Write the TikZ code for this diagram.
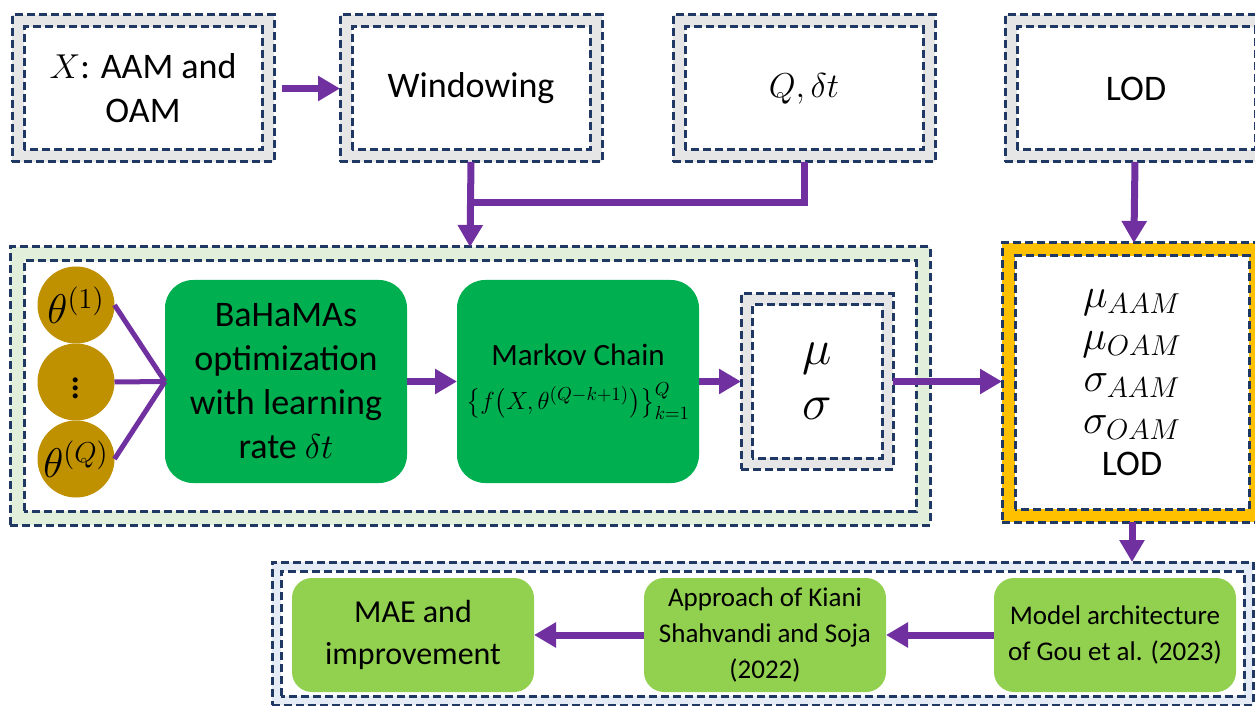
\documentclass[tikz,border=0pt]{standalone}
\usepackage{amsmath}
\usepackage{graphicx}
\usepackage{fontspec}
\setmainfont{Carlito}
\usetikzlibrary{positioning,calc,arrows.meta}

\definecolor{navyline}{HTML}{1F3864}
\definecolor{flowpurple}{HTML}{7030A0}
\definecolor{bandgray}{HTML}{E7E6E6}
\definecolor{bandgreen}{HTML}{E2EFDA}
\definecolor{bandblue}{HTML}{E6ECF6}
\definecolor{bandorange}{HTML}{FFC000}
\definecolor{stepgreen}{HTML}{00B050}
\definecolor{litegreen}{HTML}{92D050}
\definecolor{paramgold}{HTML}{BF9000}

\tikzset{
  dashline/.style={draw=navyline, line width=1.5pt, dash pattern=on 4pt off 2pt},
  dframe/.style 2 args={rectangle, dashline, fill=#1, inner sep=0pt, outer sep=0pt, align=center,
    path picture={\path[dashline, fill=white] ($(path picture bounding box.south west)+(#2,#2)$) rectangle ($(path picture bounding box.north east)-(#2,#2)$);}},
  inbox/.style={dframe={bandgray}{6pt}, minimum width=131pt, minimum height=73.5pt, font=\fontsize{18}{22}\selectfont},
  procbox/.style={rectangle, rounded corners=14pt, fill=stepgreen, minimum width=121pt, minimum height=101.5pt, inner sep=0pt, outer sep=0pt, align=center},
  resbox/.style={rectangle, rounded corners=10pt, fill=litegreen, minimum width=121pt, minimum height=57pt, inner sep=0pt, outer sep=0pt, align=center},
  param/.style={circle, fill=paramgold, minimum size=38.5pt, inner sep=0pt, outer sep=0pt, font=\fontsize{20.74}{21}\selectfont},
  link/.style={draw=flowpurple, line width=3.5pt},
  flow/.style={link, -{Triangle[length=11pt,width=12pt]}},
}

\begin{document}
\begin{tikzpicture}[x=0.5pt,y=-0.5pt]
\useasboundingbox (0,0) rectangle (1255,706);
% inputs
\node[inbox] (xin) at (143,88.5) {$X$: AAM and\\OAM};
\node[inbox, right=33pt of xin] (win) {Windowing};
\node[inbox, right=35.5pt of win] (qdt) {$Q,\delta t$};
\node[inbox, right=35pt of qdt] (lod) {LOD};

% estimation stage
\node[dframe={bandgreen}{7pt}, minimum width=460pt, minimum height=139pt] (stage) at (470,386) {};
\node[param] (th1) at (76,305) {$\theta^{(1)}$};
\node[param, below=0pt of th1] (thd) {$\vdots$};
\node[param, below=0pt of thd] (thq) {$\theta^{(Q)}$};
\node[procbox, font=\fontsize{18}{22}\selectfont] (bah) at (286,381.5) {BaHaMAs\\optimization\\with learning\\rate $\delta t$};
\node[procbox, right=25pt of bah, font=\fontsize{15.5}{20}\selectfont] (mc) {Markov Chain\\[2pt]\resizebox{112pt}{!}{$\bigl\{f\bigl(X,\theta^{(Q-k+1)}\bigr)\bigr\}_{k=1}^{Q}$}};
\node[dframe={bandgray}{5.5pt}, minimum width=76pt, minimum height=87.5pt, right=21pt of mc, font=\fontsize{24.88}{27.5}\selectfont] (musig) {$\mu$\\$\sigma$};

% collected outputs
\node[dframe={bandorange}{6.5pt}, minimum width=130pt, minimum height=139.5pt, font=\fontsize{20.74}{21}\selectfont] (out) at (1132,382.5) {$\mu_{AAM}$\\$\mu_{OAM}$\\$\sigma_{AAM}$\\$\sigma_{OAM}$\\{\fontsize{18}{21}\selectfont LOD}};

% results
\node[dframe={bandblue}{4.5pt}, minimum width=490.5pt, minimum height=71.5pt] (res) at (762.5,633.5) {};
\node[resbox, font=\fontsize{13.5}{18}\selectfont] (model) at (1115,635) {Model architecture\\of Gou et al. (2023)};
\node[resbox, left=54pt of model, font=\fontsize{13.5}{18}\selectfont] (appr) {Approach of Kiani\\Shahvandi and Soja\\(2022)};
\node[resbox, left=55pt of appr, font=\fontsize{16}{21}\selectfont] (mae) {MAE and\\improvement};

% connectors
\coordinate (merge) at (win.south |- 0,203);
\draw[flow, shorten <=4pt] (xin) -- (win);
\draw[link] (qdt.south) |- (merge);
\draw[flow] (win.south) -- (stage.north);
\draw[flow] (lod) -- (out);
\foreach \t in {th1,thd,thq}
  \draw[link, line width=2.5pt] (\t.east) -- (bah.west);
\draw[flow] (bah) -- (mc);
\draw[flow] (mc) -- (musig);
\draw[flow] (musig.east) -- (musig.east -| out.west);
\draw[flow] (out.south) -- (out.south |- res.north);
\draw[flow] (model) -- (appr);
\draw[flow] (appr) -- (mae);
\end{tikzpicture}
\end{document}
